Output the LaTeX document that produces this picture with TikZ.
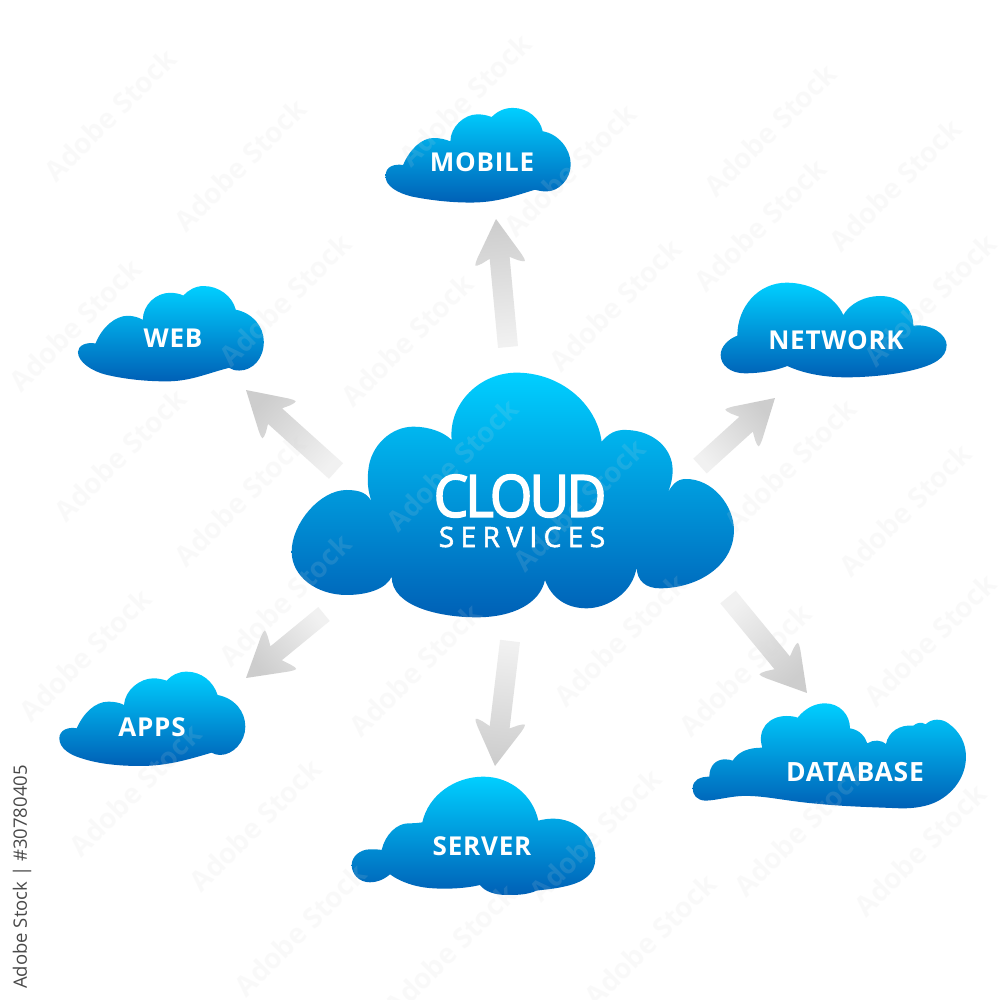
\documentclass[tikz,border=0pt]{standalone}
\usepackage{fontspec}
\usetikzlibrary{calc}
\setmainfont{Open Sans}
\newfontfamily\tagfont[LetterSpace=3]{Open Sans}
\newfontfamily\servfont[LetterSpace=23,FakeBold=2]{Open Sans}
\newfontfamily\bigfont[LetterSpace=-5,FakeBold=3]{Open Sans}
\definecolor{cloudtop}{HTML}{00CFFF}
\definecolor{cloudmid}{HTML}{0097DC}
\definecolor{cloudbot}{HTML}{0060B6}
\definecolor{tipgrey}{HTML}{CDCDCD}
\definecolor{tailgrey}{HTML}{F1F1F1}
\definecolor{markgrey}{HTML}{D8D8D8}
\definecolor{creditgrey}{HTML}{4A4A4A}
\tikzset{
  cloudfill/.style={top color=cloudtop,middle color=cloudmid,bottom color=cloudbot},
  tag/.style={text=white,inner sep=0pt,font=\tagfont\bfseries\fontsize{26}{26}\selectfont},
}
\newcommand\blockarrow[3]{%
  \path let \p1=(#1),\p2=(#2),\n1={atan2(\y2-\y1,\x2-\x1)},\n2={veclen(\x2-\x1,\y2-\y1)} in
    \pgfextra{\xdef\arang{\n1}\xdef\arlen{\n2}};
  \begin{scope}[shift={(#1)},rotate=\arang]
    \pgfmathsetmacro\L{\arlen}
    \shade[top color=tipgrey,bottom color=tailgrey,shading angle=\arang-90]
      (0,-#3) -- (\L-39,-#3) -- (\L-43,-18) .. controls (\L-46,-26.5) .. (\L-37,-22)
      -- (\L,0) -- (\L-37,22) .. controls (\L-46,26.5) .. (\L-43,18)
      -- (\L-39,#3) -- (0,#3) -- cycle;
  \end{scope}}
\begin{document}
\begin{tikzpicture}[x=1pt,y=-1pt]
\useasboundingbox (0,0) rectangle (1000,1000);
\fill[white] (0,0) rectangle (1000,1000);

% arrow end points
\coordinate (mobtail) at (508,347); \coordinate (mobtip) at (496,219);
\coordinate (webtail) at (336,471); \coordinate (webtip) at (246,390);
\coordinate (nettail) at (700,466); \coordinate (nettip) at (775,398);
\coordinate (dbtail) at (728,597);  \coordinate (dbtip) at (807,693);
\coordinate (srvtail) at (510,641); \coordinate (srvtip) at (495,766);
\coordinate (apptail) at (324,614); \coordinate (apptip) at (246,678);
\blockarrow{mobtail}{mobtip}{10}
\blockarrow{webtail}{webtip}{10.5}
\blockarrow{nettail}{nettip}{10}
\blockarrow{dbtail}{dbtip}{10}
\blockarrow{srvtail}{srvtip}{10}
\blockarrow{apptail}{apptip}{9}

% central cloud
\begin{scope}[shift={(280,360)},scale=.3333]
\shade[cloudfill] (275,425) .. controls (262,390) and (262,360) .. (265,330) .. controls (272,255) and (335,200) .. (400,200) .. controls (445,200) and (490,215) .. (515,240)
 .. controls (505,130) and (600,38) .. (710,38) .. controls (840,38) and (950,130) .. (965,245)
 .. controls (985,222) and (1005,208) .. (1040,210) .. controls (1120,212) and (1178,265) .. (1178,330) .. controls (1178,360) and (1170,385) .. (1160,405)
 .. controls (1175,375) and (1190,358) .. (1215,357) .. controls (1300,355) and (1362,440) .. (1362,510) .. controls (1362,620) and (1250,685) .. (1140,685) .. controls (1100,685) and (1070,665) .. (1070,620)
 .. controls (1060,700) and (980,745) .. (920,745) .. controls (860,745) and (815,715) .. (795,660)
 .. controls (780,730) and (700,772) .. (590,772) .. controls (480,772) and (335,740) .. (335,650)
 .. controls (320,685) and (265,705) .. (200,705) .. controls (110,705) and (35,650) .. (35,575) .. controls (35,490) and (120,390) .. (200,390) .. controls (240,390) and (262,400) .. (275,425) -- cycle;
\end{scope}
% mobile and web
\begin{scope}[shift={(60,90)},scale=.338]
\shade[cloudfill] (1015,222) .. controls (1035,175) and (1070,142) .. (1105,142) .. controls (1125,142) and (1140,146) .. (1155,152)
 .. controls (1155,110) and (1195,72) .. (1235,72) .. controls (1250,72) and (1265,75) .. (1277,80)
 .. controls (1295,62) and (1315,53) .. (1340,53) .. controls (1385,53) and (1420,85) .. (1428,122)
 .. controls (1475,130) and (1511,175) .. (1511,220) .. controls (1511,265) and (1475,300) .. (1440,300) .. controls (1425,300) and (1415,298) .. (1405,295)
 .. controls (1340,315) and (1290,333) .. (1215,333) .. controls (1150,333) and (1090,325) .. (1040,315) .. controls (1000,305) and (963,285) .. (963,255) .. controls (963,225) and (990,218) .. (1015,222) -- cycle;
\shade[cloudfill] (105,750) .. controls (125,700) and (165,668) .. (200,668) .. controls (215,668) and (232,672) .. (245,680)
 .. controls (245,635) and (285,600) .. (325,600) .. controls (340,600) and (355,603) .. (365,608)
 .. controls (380,592) and (400,580) .. (425,580) .. controls (470,580) and (510,610) .. (520,650)
 .. controls (570,660) and (603,700) .. (603,745) .. controls (603,795) and (570,830) .. (530,830) .. controls (518,830) and (508,827) .. (500,822)
 .. controls (430,840) and (385,862) .. (315,862) .. controls (250,862) and (190,855) .. (135,842) .. controls (95,832) and (53,805) .. (53,775) .. controls (53,755) and (80,745) .. (105,750) -- cycle;
\end{scope}
% apps
\begin{scope}[shift={(40,590)},scale=.3333]
\shade[cloudfill] (110,415) .. controls (130,370) and (165,335) .. (205,335) .. controls (222,335) and (240,338) .. (252,345)
 .. controls (255,300) and (300,265) .. (340,265) .. controls (355,265) and (368,268) .. (380,272)
 .. controls (395,255) and (415,245) .. (440,245) .. controls (485,245) and (520,275) .. (533,315)
 .. controls (585,325) and (616,365) .. (616,410) .. controls (616,455) and (580,495) .. (540,495) .. controls (530,495) and (522,492) .. (515,488)
 .. controls (440,510) and (380,528) .. (300,528) .. controls (230,528) and (170,520) .. (125,505) .. controls (90,495) and (58,475) .. (58,445) .. controls (58,420) and (85,410) .. (110,415) -- cycle;
\end{scope}
% server
\begin{scope}[shift={(340,630)},scale=.3333]
\shade[cloudfill] (125,660) .. controls (135,615) and (170,580) .. (205,580) .. controls (220,580) and (235,579) .. (247,577)
 .. controls (265,495) and (345,440) .. (430,440) .. controls (515,440) and (580,500) .. (595,572)
 .. controls (610,568) and (625,566) .. (640,566) .. controls (710,566) and (766,620) .. (766,685) .. controls (766,730) and (735,755) .. (680,768) .. controls (640,778) and (600,780) .. (590,782) .. controls (560,795) and (530,795) .. (500,795) .. controls (465,795) and (435,785) .. (420,765)
 .. controls (380,775) and (320,778) .. (280,775) .. controls (225,772) and (180,755) .. (150,733)
 .. controls (130,750) and (110,757) .. (90,757) .. controls (55,757) and (35,730) .. (35,705) .. controls (35,680) and (60,658) .. (90,658) .. controls (103,658) and (115,658) .. (125,660) -- cycle;
\end{scope}
% network
\begin{scope}[shift={(680,270)},scale=.3333]
\shade[cloudfill] (172,197) .. controls (172,110) and (235,38) .. (320,38) .. controls (395,38) and (465,80) .. (490,135)
 .. controls (510,100) and (555,78) .. (600,78) .. controls (660,78) and (700,115) .. (700,167)
 .. controls (755,160) and (800,195) .. (800,225) .. controls (800,265) and (760,285) .. (700,300) .. controls (640,315) and (560,322) .. (500,322) .. controls (430,322) and (370,310) .. (322,288)
 .. controls (285,303) and (235,310) .. (195,310) .. controls (150,310) and (122,285) .. (122,255) .. controls (122,230) and (145,207) .. (172,197) -- cycle;
\end{scope}
% database
\begin{scope}[shift={(680,580)},scale=.3333]
\shade[cloudfill] (38,625) .. controls (38,600) and (60,590) .. (88,590)
 .. controls (88,555) and (110,538) .. (135,538) .. controls (145,538) and (152,540) .. (158,542)
 .. controls (175,515) and (205,503) .. (247,503)
 .. controls (230,450) and (265,408) .. (320,408) .. controls (333,408) and (345,410) .. (353,413)
 .. controls (375,385) and (405,370) .. (435,370) .. controls (480,370) and (510,405) .. (510,445)
 .. controls (540,450) and (555,470) .. (562,490)
 .. controls (580,478) and (605,480) .. (618,492)
 .. controls (625,455) and (660,433) .. (700,437)
 .. controls (710,428) and (725,425) .. (737,433)
 .. controls (755,415) and (785,415) .. (805,430) .. controls (840,455) and (858,490) .. (858,530) .. controls (858,590) and (820,640) .. (770,665) .. controls (740,680) and (700,686) .. (660,685) .. controls (590,682) and (500,680) .. (420,672) .. controls (330,665) and (270,650) .. (210,648) .. controls (160,645) and (110,662) .. (75,662) .. controls (50,660) and (38,645) .. (38,625) -- cycle;
\end{scope}

% faint repeated stock marks, as in the reference
\foreach \px/\py [count=\k] in {110/115,240/165,285/300,407/340,465/100,570/170,615/305,760/225,895/185,770/130,75/325,120/455,240/500,285/600,85/655,135/790,255/825,415/670,620/640,745/670,790/465,905/510,930/300,930/640,300/930,450/950,650/940,920/850,800/830,595/835,452/465,579/505}{
  \node[name=mark\k,rotate=45,inner sep=0pt,text=markgrey,text opacity=.13,font=\bfseries\fontsize{28}{28}\selectfont] at (\px,\py) {Adobe Stock};
}

% labels
\node[tag] (mobile) at (482,162) {MOBILE};
\node[tag] (web) at (173,338) {WEB};
\node[tag] (apps) at (152,727) {APPS};
\node[tag] (server) at (482,846) {SERVER};
\node[tag] (network) at (836,340) {NETWORK};
\node[tag,font=\tagfont\bfseries\fontsize{26.5}{26.5}\selectfont] (database) at (855,772) {DATABASE};
\node[text=white,inner sep=0pt,font=\bigfont\fontsize{58}{58}\selectfont,xscale=.94] (cloud) at (520,496) {CLOUD};
\node[text=white,inner sep=0pt,font=\servfont\fontsize{28}{28}\selectfont] (services) at (522,537) {SERVICES};
\node[rotate=90,inner sep=0pt,text=creditgrey,font=\fontsize{18.5}{18.5}\selectfont] (credit) at (22,877) {Adobe Stock | \#30780405};
\end{tikzpicture}
\end{document}
